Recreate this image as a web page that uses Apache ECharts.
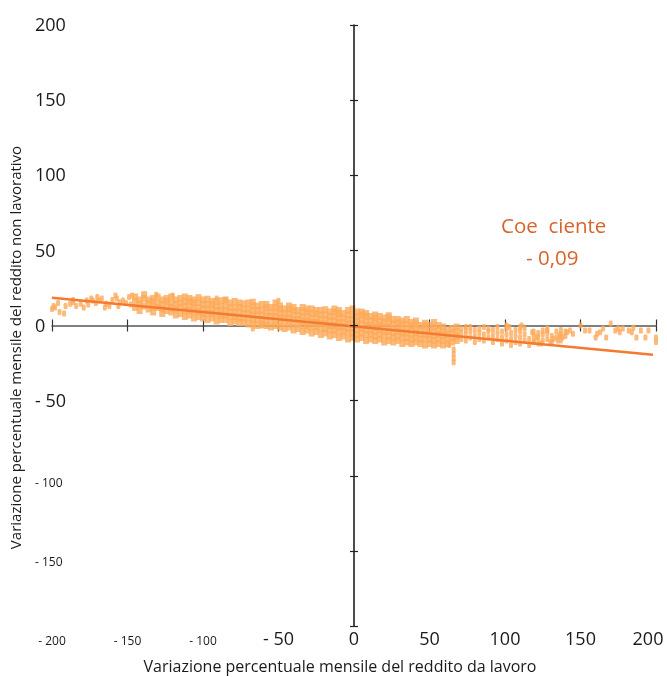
<!DOCTYPE html>
<html>
<head>
<meta charset="utf-8">
<script src="https://cdn.jsdelivr.net/npm/echarts@6/dist/echarts.min.js"></script>
<style>
  html, body { margin: 0; padding: 0; background: #fff; }
  #chart { width: 667px; height: 677px; }
</style>
</head>
<body>
<div id="chart"></div>
<script>
// tick values and their printed labels
const tickValues = [-200, -150, -100, -50, 0, 50, 100, 150, 200];
const xTickText = ['- 200', '- 150', '- 100', '- 50', '0', '50', '100', '150', '200'];
// the y "- 200" sits on the same spot as the x "- 200", so it is left blank
const yTickText = ['', '- 150', '- 100', '- 50', '0', '50', '100', '150', '200'];

// sparse points at the left end (x, y)
const leftPoints = [
  [-200, 11], [-198, 12], [-199, 13], [-195, 9], [-192, 8], [-191, 13], [-188, 14.5], [-186, 15.5],
  [-184, 13], [-181, 14.5], [-179, 12], [-177, 16.7], [-174, 18], [-173, 16.7], [-170, 19], [-169, 16.7],
  [-167, 18], [-165, 12], [-164, 14.5], [-162, 13], [-158, 20], [-157, 18], [-155, 15.5], [-153, 16.7],
  [-149, 19], [-147, 20], [-196, 15], [-186, 17], [-176, 14], [-171, 15], [-160, 17], [-156, 13],
  [-151, 15], [-148, 14]
];

// dense band, one row per column: x followed by the y values seen in that column
const bandColumns = [
  [-145, 12, 16, 19], [-142, 10, 14, 17], [-139, 13, 18, 20.5], [-136, 11, 15, 17],
  [-133, 9, 13, 16, 18], [-130, 12, 15, 19], [-127, 8, 11, 14, 17], [-124, 10, 13, 16, 18],
  [-121, 9, 12, 15, 19], [-118, 7, 11, 14, 17], [-115, 8, 12, 15, 18], [-112, 6, 10, 13, 16, 19],
  [-109, 7, 10, 13, 16, 18], [-106, 5, 9, 12, 15, 17], [-103, 6, 9, 12, 15, 18.5], [-100, 5, 8, 11, 14, 17],
  [-97, 4, 8, 11, 14, 17.5], [-94, 5, 8, 11, 14, 16], [-91, 3, 7, 10, 13, 16], [-88, 4, 7, 10, 13, 16.5],
  [-85, 4, 7, 10, 13, 17], [-82, 2, 6, 9, 12, 15], [-79, 3, 6, 9, 12, 16], [-76, 2, 5, 9, 12, 15],
  [-73, 2, 5, 8, 11, 14.5], [-70, 1, 5, 8, 11, 15], [-67, 1, 4, 7, 10, 13, 15.5], [-64, 0, 4, 7, 10, 13],
  [-61, 1, 4, 7, 10, 14], [-58, 0, 3, 6, 9, 12, 14], [-55, -1, 3, 6, 9, 12], [-52, 0, 3, 6, 9, 12, 15],
  [-49, -1, 2, 5, 8, 11, 13], [-46, -2, 2, 5, 8, 11], [-43, -1, 2, 5, 8, 11, 13], [-40, -3, 1, 4, 7, 10, 12],
  [-37, -2, 1, 4, 7, 10], [-34, -4, 0, 3, 6, 9, 12], [-31, -3, 0, 3, 6, 9, 11], [-28, -5, -1, 2, 5, 8, 11],
  [-25, -4, -1, 2, 5, 8, 10], [-22, -6, -2, 1, 4, 7, 10], [-19, -5, -2, 1, 4, 7, 10.5], [-16, -7, -3, 0, 3, 6, 9],
  [-13, -6, -3, 0, 3, 6, 9, 11], [-10, -8, -4, -1, 2, 5, 8, 10], [-7, -7, -4, -1, 2, 5, 8], [-4, -9, -5, -2, 1, 4, 7, 10],
  [-1, -8, -5, -2, 1, 4, 7, 11], [2, -9, -6, -3, 0, 3, 6, 9], [5, -8, -5, -2, 1, 4, 7, 9], [8, -10, -6, -3, 0, 3, 6, 8],
  [11, -9, -6, -3, 0, 3, 6], [14, -10, -7, -4, -1, 2, 5, 7], [17, -9, -6, -3, 0, 3, 6], [20, -11, -7, -4, -1, 2, 5],
  [23, -10, -7, -4, -1, 2, 5, 6.5], [26, -11, -8, -5, -2, 1, 4], [29, -10, -7, -4, -1, 2, 4], [32, -12, -8, -5, -2, 1, 3],
  [35, -11, -8, -5, -2, 1, 4], [38, -12, -9, -6, -3, 0, 2], [41, -11, -8, -5, -2, 1, 3], [44, -12, -9, -6, -3, 0],
  [47, -13, -9, -6, -3, 0, 1.5], [50, -12, -9, -6, -3, 0], [53, -13, -10, -7, -4, -1, 2], [56, -12, -9, -6, -3, 0],
  [59, -13, -10, -7, -4, -1], [62, -12, -9, -6, -3], [65, -11, -8, -5, -2], [68, -10, -7, -4, -1]
];

// looser points right of the band
const rightColumns = [
  [71, -9, -5, -2], [74, -10, -6, -3, -1], [77, -8, -4, -1], [80, -11, -7, -3], [83, -9, -5, -2],
  [86, -10, -6, -1], [89, -8, -4, -2], [92, -11, -7, -3], [95, -9, -5, -1], [98, -12, -8, -4],
  [101, -10, -6, -2, 0], [104, -13, -9, -5], [107, -11, -7, -3], [110, -12, -8, -4, -1], [113, -10, -6, -2],
  [116, -13, -9], [119, -11, -7, -4], [122, -12, -8, -5], [125, -10, -6], [128, -9, -5, -2],
  [131, -11, -7], [134, -8, -4], [137, -10, -6, -3], [140, -7, -4]
];

// scattered single points and outliers
const otherPoints = [
  [63, -13], [66, -16], [66, -19], [66, -22], [66, -24.5], [-67, -2], [-61, 0], [-85, 17], [-50, 16.5],
  [111, 0], [103, -1], [118, -4.5], [125, -3.3], [128, -3.3], [136, -6.7], [143, -3.3], [145, -5.5],
  [150, 0], [153, -3.3], [156, -3.3], [161, -5.5], [165, -2], [167, -8], [170, 1.3], [173, -3.3],
  [175, -2], [178, -2], [182, -3.3], [185, -1.5], [187, -8], [190, -3.3], [193, -8], [195, -3.3],
  [200, -8], [200, -11], [141, -4.5], [138, -8], [132, -9], [130, -11], [119, -11], [121, -8],
  [124, -12], [135, -10], [160, -8], [163, -4.5], [176, -4.5], [184, -4.5], [-91, 18], [-120, 20], [-131, 20.5]
];

// fitted line end points
const trendLine = [[-200, 18.5], [198, -19.5]];

const flatten = cols => cols.flatMap(c => c.slice(1).map(y => [c[0], y]));
const bandPoints = flatten(bandColumns);
const loosePoints = leftPoints.concat(flatten(rightColumns), otherPoints);

const FONT = "'Open Sans', 'Noto Sans', sans-serif";
const DOT = '#fcaa5a';
const INK = '#1a1a1a';

const chart = echarts.init(document.getElementById('chart'));

function xLabel(v) {
  const i = tickValues.indexOf(v);
  if (i < 0) return '';
  if (v < -50) return '{s|' + xTickText[i] + '}';
  if (v === 200) return '{e|' + xTickText[i] + '}';
  return '{b|' + xTickText[i] + '}';
}

function yLabel(v) {
  const i = tickValues.indexOf(v);
  if (i < 0 || !yTickText[i]) return '';
  if (v === -150) return '{s2|' + yTickText[i] + '}';
  if (v === -100) return '{s1|' + yTickText[i] + '}';
  return '{b|' + yTickText[i] + '}';
}

const zeroAxis = {
  type: 'value', min: -200, max: 200, interval: 50,
  axisLabel: { show: false },
  splitLine: { show: false }
};

const option = {
  backgroundColor: '#fff',
  animation: false,
  grid: { left: 52, right: 11, top: 25, bottom: 51, outerBoundsMode: 'none', containLabel: false },
  xAxis: [
    Object.assign({}, zeroAxis, {
      position: 'bottom',
      axisLine: { show: true, onZero: true, lineStyle: { color: '#555', width: 1.5 } },
      axisTick: { show: true, inside: false, length: 6, lineStyle: { color: '#333', width: 1.2 } }
    }),
    {
      type: 'value', min: -200, max: 200, interval: 50, position: 'bottom',
      axisLine: { show: false, onZero: false },
      axisTick: { show: false },
      splitLine: { show: false },
      axisLabel: {
        margin: 5, formatter: xLabel, color: INK, fontFamily: FONT, verticalAlign: 'top',
        rich: {
          b: { fontSize: 18, fontFamily: FONT, color: INK },
          s: { fontSize: 12, fontFamily: FONT, color: INK, padding: [5, 0, 0, 0] },
          e: { fontSize: 18, fontFamily: FONT, color: INK, padding: [0, 16, 0, 0] }
        }
      },
      name: 'Variazione percentuale mensile del reddito da lavoro',
      nameLocation: 'middle', nameGap: 33,
      nameTextStyle: { fontSize: 16, fontFamily: FONT, color: INK, padding: [0, 28, 0, 0] }
    },
    Object.assign({}, zeroAxis, {
      position: 'bottom',
      axisLine: { show: false, onZero: true },
      axisTick: { show: true, inside: true, length: 6, lineStyle: { color: '#333', width: 1.2 } }
    })
  ],
  yAxis: [
    Object.assign({}, zeroAxis, {
      position: 'left', z: 10,
      axisLine: { show: true, onZero: true, lineStyle: { color: '#111', width: 1.5 } },
      axisTick: { show: true, inside: false, length: 4, lineStyle: { color: '#222', width: 1.2 } }
    }),
    {
      type: 'value', min: -200, max: 200, interval: 50, position: 'left',
      axisLine: { show: false, onZero: false },
      axisTick: { show: false },
      splitLine: { show: false },
      axisLabel: {
        margin: 17, align: 'left', formatter: yLabel, fontFamily: FONT, color: INK,
        rich: {
          b: { fontSize: 18, fontFamily: FONT, color: INK, padding: [2, 0, 0, 0] },
          s1: { fontSize: 12, fontFamily: FONT, color: INK, padding: [15, 0, 0, 0] },
          s2: { fontSize: 12, fontFamily: FONT, color: INK, padding: [23, 0, 0, 0] }
        }
      },
      name: 'Variazione percentuale mensile del reddito non lavorativo',
      nameLocation: 'middle', nameGap: 28, nameRotate: 90,
      nameTextStyle: { fontSize: 15, fontFamily: FONT, color: INK, padding: [0, 44, 0, 0] }
    },
    Object.assign({}, zeroAxis, {
      position: 'left', z: 10,
      axisLine: { show: false, onZero: true },
      axisTick: { show: true, inside: true, length: 4, lineStyle: { color: '#222', width: 1.2 } }
    })
  ],
  series: [
    {
      name: 'band', type: 'scatter', xAxisIndex: 0, yAxisIndex: 0,
      data: bandPoints, symbol: 'rect', symbolSize: [6, 7],
      itemStyle: { color: DOT }
    },
    {
      name: 'sparse', type: 'scatter', xAxisIndex: 0, yAxisIndex: 0,
      data: loosePoints, symbol: 'roundRect', symbolSize: [4, 6],
      itemStyle: { color: DOT }
    },
    {
      name: 'trend', type: 'line', xAxisIndex: 0, yAxisIndex: 0, z: 5,
      data: trendLine, symbol: 'none',
      lineStyle: { color: '#f47a30', width: 2.5 }
    }
  ],
  graphic: [
    {
      type: 'text', left: 501, top: 217,
      style: { text: 'Coe  ciente', fontSize: 20.5, fontFamily: FONT, fill: '#d8642c' }
    },
    {
      type: 'text', left: 526, top: 249,
      style: { text: '- 0,09', fontSize: 20.5, fontFamily: FONT, fill: '#d8642c' }
    }
  ]
};

chart.setOption(option);
</script>
</body>
</html>
